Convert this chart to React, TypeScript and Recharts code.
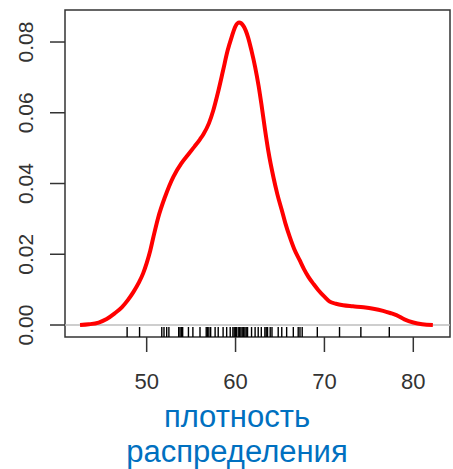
import React from "react";
import {
  ComposedChart,
  Line,
  Scatter,
  XAxis,
  YAxis,
  ReferenceLine,
  ReferenceArea,
  Label,
} from "recharts";

// density curve (x, density)
const densX = [
  42.5, 43.5, 44.6, 45.5, 46.4, 47.2, 47.9, 48.5, 49.1, 49.6, 50.0, 50.4, 50.75,
  51.3, 52.06, 53.0, 53.9, 54.7, 55.4, 56.0, 56.4, 57.0, 57.5, 58.0, 58.6, 59.1,
  59.56, 60.0, 60.4, 60.9, 61.4, 61.8, 62.2, 62.6, 62.9, 63.3, 63.7, 64.25, 64.7,
  65.2, 65.6, 66.1, 66.6, 67.2, 67.7, 68.2, 68.8, 69.3, 70.0, 70.6, 71.3, 72.1,
  73.2, 74.4, 75.5, 76.6, 77.4, 78.1, 79.0, 80.0, 81.0, 82.2,
];
const densY = [
  0.0, 0.0002, 0.0007, 0.0017, 0.0033, 0.005, 0.0071, 0.0093, 0.0119, 0.0146,
  0.0175, 0.021, 0.0248, 0.0304, 0.0362, 0.0419, 0.0457, 0.0483, 0.0505, 0.0525,
  0.054, 0.057, 0.0607, 0.0655, 0.072, 0.0775, 0.0814, 0.0845, 0.0855, 0.0845,
  0.0814, 0.0775, 0.073, 0.0675, 0.0626, 0.0555, 0.049, 0.0419, 0.037, 0.0325,
  0.0288, 0.0249, 0.0215, 0.0184, 0.0158, 0.0136, 0.0115, 0.0099, 0.008, 0.0066,
  0.006, 0.0056, 0.0053, 0.005, 0.0046, 0.004, 0.0034, 0.0028, 0.0016, 0.0007,
  0.0002, 0.0,
];

// rug (observations)
const rugX = [
  47.8, 49.2, 51.7, 51.95, 52.25, 52.5, 53.6, 53.75, 53.9, 54.05, 54.7, 55.2, 56.0,
  56.7, 56.85, 57.0, 57.2, 57.7, 58.05, 58.6, 59.0, 59.4, 59.7, 59.85, 60.0, 60.1,
  60.3, 60.45, 60.6, 60.75, 60.9, 61.05, 61.2, 61.35, 61.8, 62.2, 62.55, 62.9,
  63.3, 63.45, 63.6, 63.9, 64.1, 64.8, 65.2, 65.75, 66.5, 67.05, 67.25, 67.5, 69.2,
  71.7, 74.1, 77.3,
];

const xTicks = [50, 60, 70, 80];
const yTicks = [0, 0.02, 0.04, 0.06, 0.08];
const titleLines = ["плотность", "распределения"];

const xMin = 40.81;
const xMax = 84.13;
const yMin = -0.00339;
const yMax = 0.08905;

const densData = densX.map((x, i) => ({ x, y: densY[i] }));
const rugData = rugX.map((x) => ({ x, y: yMin }));

const FONT = "'Liberation Sans', Arial, sans-serif";

const RugTick = (props: any) => {
  const { cx, cy } = props;
  return (
    <line
      x1={cx}
      x2={cx}
      y1={cy}
      y2={cy - 10}
      stroke="#000"
      strokeWidth={1.4}
    />
  );
};

const YTick = (props: any) => {
  const { x, y, payload } = props;
  return (
    <text
      x={x}
      y={y}
      transform={`rotate(-90, ${x}, ${y})`}
      textAnchor="middle"
      fontSize={21}
      fontFamily={FONT}
      fill="#333"
    >
      {Number(payload.value).toFixed(2)}
    </text>
  );
};

const XTick = (props: any) => {
  const { x, y, payload } = props;
  return (
    <text
      x={x}
      y={y}
      dy="0.71em"
      textAnchor="middle"
      fontSize={22}
      fontFamily={FONT}
      fill="#333"
    >
      {payload.value}
    </text>
  );
};

const Title = () => (
  <g>
    {titleLines.map((t, i) => (
      <text
        key={i}
        x={237}
        y={427 + i * 35}
        textAnchor="middle"
        fontSize={31}
        fontFamily={FONT}
        fill="#0070C0"
      >
        {t}
      </text>
    ))}
  </g>
);

export default function App() {
  return (
    <div style={{ position: "absolute", left: 0, top: 0, background: "#fff" }}>
      <ComposedChart
        width={453}
        height={469}
        margin={{ top: 10, right: 3, left: 0, bottom: 0 }}
      >
        <XAxis
          dataKey="x"
          type="number"
          domain={[xMin, xMax]}
          ticks={xTicks}
          allowDataOverflow
          height={132}
          axisLine={false}
          tickLine={{ stroke: "#333", strokeWidth: 1.5 }}
          tickSize={15}
          tickMargin={21}
          tick={<XTick />}
          interval={0}
        >
          <Label content={<Title />} />
        </XAxis>
        <YAxis
          type="number"
          domain={[yMin, yMax]}
          ticks={yTicks}
          allowDataOverflow
          width={65}
          axisLine={false}
          tickLine={{ stroke: "#333", strokeWidth: 1.5 }}
          tickSize={15}
          tickMargin={17}
          tick={<YTick />}
          interval={0}
        />
        <ReferenceLine y={0} stroke="#bebebe" strokeWidth={1.5} />
        <Scatter
          data={rugData}
          dataKey="y"
          shape={<RugTick />}
          isAnimationActive={false}
        />
        <Line
          data={densData}
          dataKey="y"
          type="monotone"
          stroke="#ff0000"
          strokeWidth={4}
          dot={false}
          isAnimationActive={false}
        />
        <ReferenceArea
          x1={xMin}
          x2={xMax}
          y1={yMin}
          y2={yMax}
          fill="none"
          stroke="#333"
          strokeWidth={1.5}
          ifOverflow="visible"
        />
      </ComposedChart>
    </div>
  );
}
